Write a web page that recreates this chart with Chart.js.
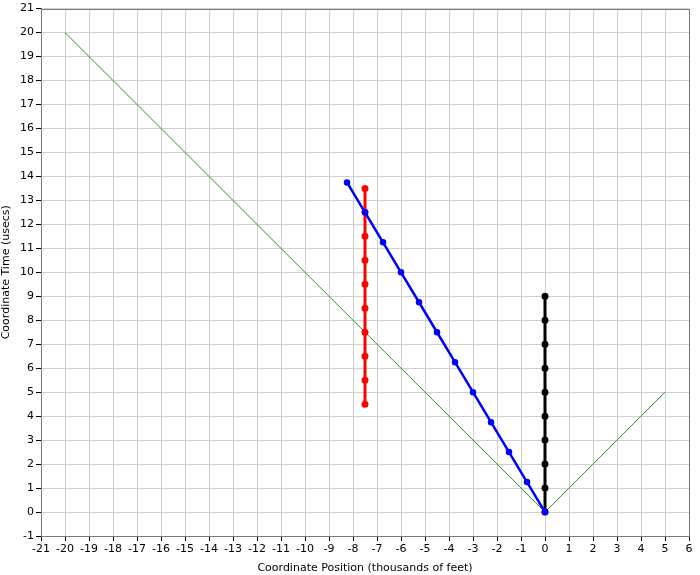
<!DOCTYPE html>
<html>
<head>
<meta charset="utf-8">
<script src="https://cdn.jsdelivr.net/npm/chart.js@4/dist/chart.umd.min.js"></script>
<style>
  html, body { margin: 0; padding: 0; background: #fff; }
  #wrap { width: 700px; height: 575px; }
</style>
</head>
<body>
<div id="wrap"><canvas id="chart" width="700" height="575"></canvas></div>
<script>
// reference line (light cone)
const coneX = [-20, 0, 5];
const coneY = [20, 0, 5];
// red: fixed position
const redX = [-7.5, -7.5, -7.5, -7.5, -7.5, -7.5, -7.5, -7.5, -7.5, -7.5];
const redY = [4.5, 5.5, 6.5, 7.5, 8.5, 9.5, 10.5, 11.5, 12.5, 13.5];
// blue: moving
const blueX = [-8.25, -7.5, -6.75, -6, -5.25, -4.5, -3.75, -3, -2.25, -1.5, -0.75, 0];
const blueY = [13.75, 12.5, 11.25, 10, 8.75, 7.5, 6.25, 5, 3.75, 2.5, 1.25, 0];
// black: origin
const blackX = [0, 0, 0, 0, 0, 0, 0, 0, 0, 0];
const blackY = [0, 1, 2, 3, 4, 5, 6, 7, 8, 9];

const xTicks = [];
for (let v = -21; v <= 6; v++) xTicks.push(v);
const yTicks = [];
for (let v = -1; v <= 21; v++) yTicks.push(v);

const pts = (xs, ys) => xs.map((x, i) => ({ x: x, y: ys[i] }));

const frame = {
  id: 'frame',
  afterDraw(chart) {
    const a = chart.chartArea, c = chart.ctx;
    c.save();
    c.strokeStyle = '#7a7a7a';
    c.lineWidth = 1;
    c.strokeRect(Math.round(a.left) + 0.5, Math.round(a.top) + 0.5,
      Math.round(a.right - a.left), Math.round(a.bottom - a.top));
    c.restore();
  }
};

Chart.defaults.font.family = 'Tahoma, "DejaVu Sans", sans-serif';
Chart.defaults.font.size = 11;
Chart.defaults.color = '#000';

new Chart(document.getElementById('chart').getContext('2d'), {
  type: 'scatter',
  data: {
    datasets: [
      { data: pts(coneX, coneY), showLine: true, borderColor: '#2e8f2e', borderWidth: 1,
        pointRadius: 0, order: 4 },
      { data: pts(redX, redY), showLine: true, borderColor: '#ff0000', backgroundColor: '#ff0000',
        borderWidth: 3, pointRadius: 2, order: 2 },
      { data: pts(blueX, blueY), showLine: true, borderColor: '#0000ff', backgroundColor: '#0000ff',
        borderWidth: 2.5, pointRadius: 2, order: 1 },
      { data: pts(blackX, blackY), showLine: true, borderColor: '#000', backgroundColor: '#000',
        borderWidth: 3, pointRadius: 2, order: 3 }
    ]
  },
  options: {
    responsive: false,
    animation: false,
    layout: { padding: { top: 8, right: 11, left: 0, bottom: 0 } },
    plugins: { legend: { display: false }, tooltip: { enabled: false } },
    scales: {
      x: {
        type: 'linear', min: -21, max: 6,
        afterBuildTicks: s => { s.ticks = xTicks.map(v => ({ value: v })); },
        afterFit: s => { s.height = 39; },
        grid: { color: '#d0d0d0', tickColor: '#000', tickLength: 5, drawTicks: true },
        border: { color: '#7a7a7a' },
        ticks: { padding: 2, maxRotation: 0, autoSkip: false },
        title: { display: true, text: 'Coordinate Position (thousands of feet)', padding: { top: 0, bottom: 0 } }
      },
      y: {
        type: 'linear', min: -1, max: 21,
        afterBuildTicks: s => { s.ticks = yTicks.map(v => ({ value: v })); },
        afterFit: s => { s.width = 41; },
        grid: { color: '#d0d0d0', tickColor: '#000', tickLength: 5, drawTicks: true },
        border: { color: '#7a7a7a' },
        ticks: { padding: 2, autoSkip: false },
        title: { display: true, text: 'Coordinate Time (usecs)', padding: { top: 0, bottom: 0 } }
      }
    }
  },
  plugins: [frame]
});
</script>
</body>
</html>
